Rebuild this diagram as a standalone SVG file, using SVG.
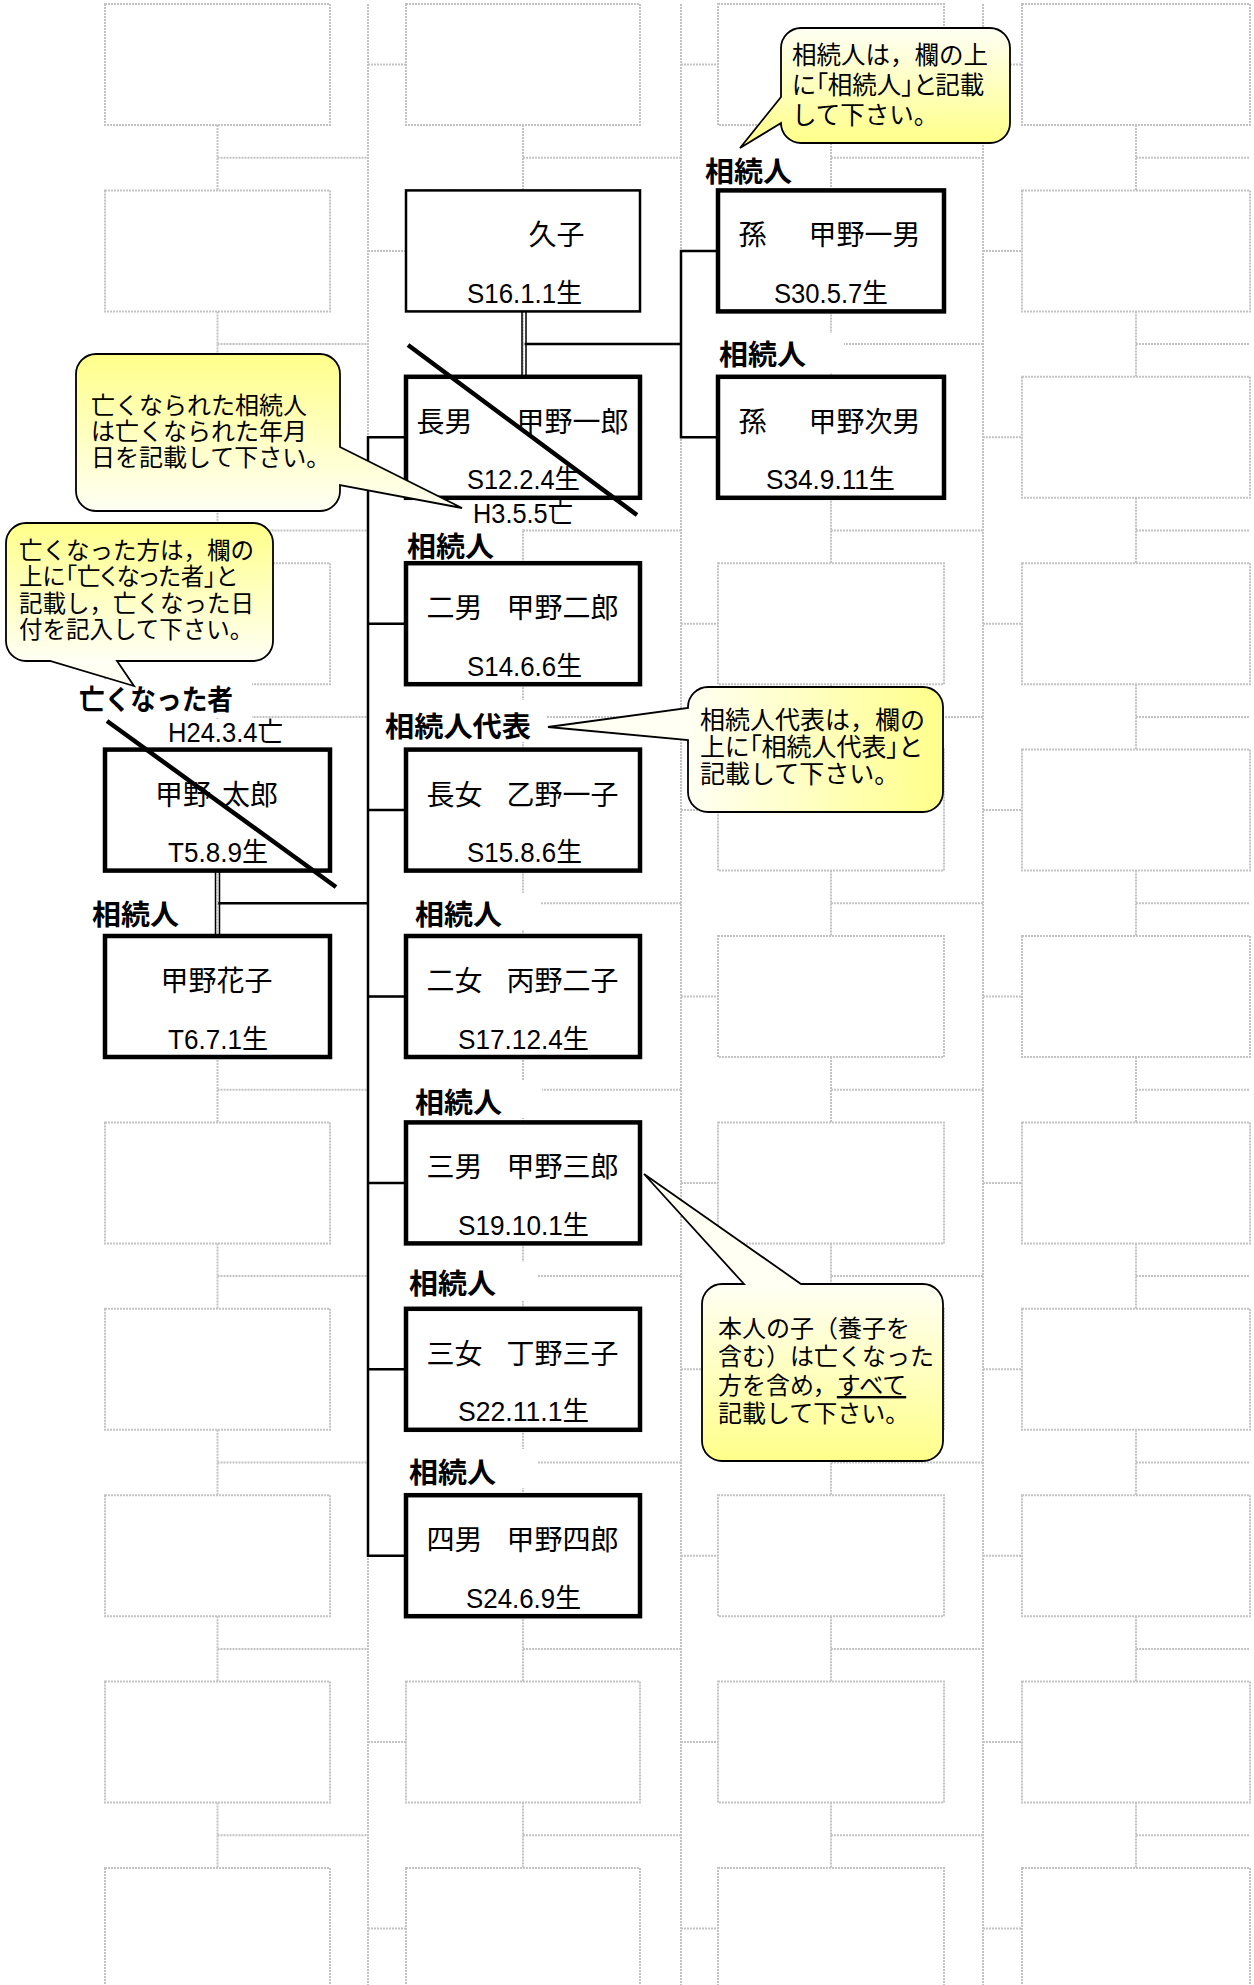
<svg xmlns="http://www.w3.org/2000/svg" width="1254" height="1985" viewBox="0 0 1254 1985">
<style>
text{font-family:'Noto Sans CJK JP','Noto Sans',sans-serif;fill:#000}
.dot{fill:none;stroke:#c3c3c3;stroke-width:2;stroke-dasharray:2 1}
.box{fill:#fff;stroke:#000;stroke-width:4.5}
.thin{fill:#fff;stroke:#000;stroke-width:2.5}
.ln{fill:none;stroke:#000;stroke-width:2.5;stroke-linecap:square}
.dbl{fill:none;stroke:#000;stroke-width:1.5}
.x{stroke:#000;stroke-width:4.5}
.bg{fill:#fff}
.nm{font-size:28px}
.dt{font-size:27px;font-family:'Liberation Sans','Noto Sans CJK JP',sans-serif}
.lb{font-size:28px;font-weight:700}
.co{font-size:24px;font-family:'Liberation Sans','Noto Sans CJK JP',sans-serif}
.pa{font-feature-settings:"palt"}
.cb{stroke:#000;stroke-width:1.8}
</style>
<defs>
<g id="row" class="dot">
<rect x="105" y="4" width="225" height="121"/>
<rect x="406" y="4" width="234" height="121"/>
<rect x="718" y="4" width="226" height="121"/>
<rect x="1022" y="4" width="228" height="121"/>
<path d="M217.5,125V190.4M217.5,157.7H368M523,125V190.4M523,157.7H681M831,125V190.4M831,157.7H983M1136,125V190.4M1136,157.7H1250M368,64.5H406M681,64.5H718M983,64.5H1022"/>
</g>
<linearGradient id="g1" gradientUnits="userSpaceOnUse" x1="0" y1="28" x2="0" y2="143"><stop offset="0" stop-color="#fffff4"/><stop offset="1" stop-color="#ffff8a"/></linearGradient>
<linearGradient id="g2" gradientUnits="userSpaceOnUse" x1="0" y1="354" x2="0" y2="511"><stop offset="0" stop-color="#ffff8a"/><stop offset="1" stop-color="#fffff4"/></linearGradient>
<linearGradient id="g3" gradientUnits="userSpaceOnUse" x1="0" y1="523" x2="0" y2="661"><stop offset="0" stop-color="#ffff8a"/><stop offset="1" stop-color="#fffff4"/></linearGradient>
<linearGradient id="g4" gradientUnits="userSpaceOnUse" x1="688" y1="0" x2="943" y2="0"><stop offset="0" stop-color="#fffff4"/><stop offset="1" stop-color="#ffff8a"/></linearGradient>
<linearGradient id="g5" gradientUnits="userSpaceOnUse" x1="0" y1="1284" x2="0" y2="1461"><stop offset="0" stop-color="#fffff4"/><stop offset="1" stop-color="#ffff8a"/></linearGradient>
</defs>
<rect width="1254" height="1985" fill="#fff"/>
<g id="template">
<use href="#row"/>
<use href="#row" y="186.4"/>
<use href="#row" y="372.8"/>
<use href="#row" y="559.2"/>
<use href="#row" y="745.6"/>
<use href="#row" y="932"/>
<use href="#row" y="1118.4"/>
<use href="#row" y="1304.8"/>
<use href="#row" y="1491.2"/>
<use href="#row" y="1677.6"/>
<use href="#row" y="1864"/>
<path class="dot" d="M368,4V1985M681,4V1985M983,4V1985"/>
</g>
<g id="connectors">
<path class="ln" d="M368,437.3V1555.7M368,437.3H406M368,623.7H406M368,810.1H406M368,996.5H406M368,1182.9H406M368,1369.3H406M368,1555.7H406M219.5,903.3H368M526,344.1H681M681,250.9V437.3M681,250.9H718M681,437.3H718"/>
<path class="dbl" d="M215.5,870.6V936M219.5,870.6V936M522,311.4V376.8M526,311.4V376.8"/>
</g>
<g id="node-hisako">
<rect class="thin" x="406" y="190.4" width="234" height="121"/>
<text class="nm" x="528.5" y="245.4">久子</text>
<text class="dt" x="467" y="302.9" textLength="115" lengthAdjust="spacingAndGlyphs">S16.1.1生</text>
</g>
<g id="node-ichiro">
<rect class="bg" x="470" y="500.5" width="108" height="28.5"/>
<rect class="box" x="406" y="376.8" width="234" height="121"/>
<text class="nm" y="431.8"><tspan x="416.5">長男</tspan><tspan x="516.5">甲野一郎</tspan></text>
<text class="dt" x="467" y="489.3" textLength="113" lengthAdjust="spacingAndGlyphs">S12.2.4生</text>
<text class="dt" x="473" y="523" textLength="100" lengthAdjust="spacingAndGlyphs">H3.5.5亡</text>
<line class="x" x1="408" y1="345" x2="637" y2="515"/>
</g>
<g id="node-jiro">
<rect class="bg" x="403" y="528" width="98" height="33"/>
<text class="lb" x="407" y="557" textLength="87" lengthAdjust="spacingAndGlyphs">相続人</text>
<rect class="box" x="406" y="563.2" width="234" height="121"/>
<text class="nm" y="618.2"><tspan x="426.5">二男</tspan><tspan x="506.5">甲野二郎</tspan></text>
<text class="dt" x="467" y="675.7" textLength="115" lengthAdjust="spacingAndGlyphs">S14.6.6生</text>
</g>
<g id="node-ichiko">
<rect class="bg" x="380" y="700" width="166" height="42"/>
<text class="lb" x="385" y="737" textLength="146" lengthAdjust="spacingAndGlyphs">相続人代表</text>
<rect class="box" x="406" y="749.6" width="234" height="121"/>
<text class="nm" y="804.6"><tspan x="426.5">長女</tspan><tspan x="506.5">乙野一子</tspan></text>
<text class="dt" x="467" y="862.1" textLength="115" lengthAdjust="spacingAndGlyphs">S15.8.6生</text>
</g>
<g id="node-futako">
<rect class="bg" x="410" y="893" width="130" height="37"/>
<text class="lb" x="415" y="925" textLength="87" lengthAdjust="spacingAndGlyphs">相続人</text>
<rect class="box" x="406" y="936" width="234" height="121"/>
<text class="nm" y="991"><tspan x="426.5">二女</tspan><tspan x="506.5">丙野二子</tspan></text>
<text class="dt" x="458" y="1048.5" textLength="131" lengthAdjust="spacingAndGlyphs">S17.12.4生</text>
</g>
<g id="node-saburo">
<rect class="bg" x="410" y="1080" width="132" height="38"/>
<text class="lb" x="415" y="1113" textLength="87" lengthAdjust="spacingAndGlyphs">相続人</text>
<rect class="box" x="406" y="1122.4" width="234" height="121"/>
<text class="nm" y="1177.4"><tspan x="426.5">三男</tspan><tspan x="506.5">甲野三郎</tspan></text>
<text class="dt" x="458" y="1234.9" textLength="131" lengthAdjust="spacingAndGlyphs">S19.10.1生</text>
</g>
<g id="node-mitsuko">
<rect class="bg" x="404" y="1262" width="133" height="39"/>
<text class="lb" x="409" y="1294" textLength="87" lengthAdjust="spacingAndGlyphs">相続人</text>
<rect class="box" x="406" y="1308.8" width="234" height="121"/>
<text class="nm" y="1363.8"><tspan x="426.5">三女</tspan><tspan x="506.5">丁野三子</tspan></text>
<text class="dt" x="458" y="1421.3" textLength="131" lengthAdjust="spacingAndGlyphs">S22.11.1生</text>
</g>
<g id="node-shiro">
<rect class="bg" x="404" y="1449" width="133" height="39"/>
<text class="lb" x="409" y="1483" textLength="87" lengthAdjust="spacingAndGlyphs">相続人</text>
<rect class="box" x="406" y="1495.2" width="234" height="121"/>
<text class="nm" y="1550.2"><tspan x="426.5">四男</tspan><tspan x="506.5">甲野四郎</tspan></text>
<text class="dt" x="466" y="1607.7" textLength="115" lengthAdjust="spacingAndGlyphs">S24.6.9生</text>
</g>
<g id="node-taro">
<rect class="bg" x="75" y="680" width="177" height="38"/>
<rect class="bg" x="165" y="719" width="122" height="27"/>
<text class="lb" x="79" y="710" textLength="154" lengthAdjust="spacingAndGlyphs">亡くなった者</text>
<text class="dt" x="168" y="742" textLength="115" lengthAdjust="spacingAndGlyphs">H24.3.4亡</text>
<rect class="box" x="105" y="749.6" width="225" height="121"/>
<text class="nm" y="804.6"><tspan x="155">甲野</tspan><tspan x="222">太郎</tspan></text>
<text class="dt" x="168" y="862.1" textLength="100" lengthAdjust="spacingAndGlyphs">T5.8.9生</text>
<line class="x" x1="107" y1="721" x2="336" y2="887"/>
</g>
<g id="node-hanako">
<rect class="bg" x="88" y="893" width="100" height="36"/>
<text class="lb" x="92" y="925" textLength="87" lengthAdjust="spacingAndGlyphs">相続人</text>
<rect class="box" x="105" y="936" width="225" height="121"/>
<text class="nm" x="160.5" y="991">甲野花子</text>
<text class="dt" x="168" y="1048.5" textLength="100" lengthAdjust="spacingAndGlyphs">T6.7.1生</text>
</g>
<g id="node-kazuo">
<rect class="bg" x="703" y="152" width="100" height="36"/>
<text class="lb" x="705" y="182" textLength="87" lengthAdjust="spacingAndGlyphs">相続人</text>
<rect class="box" x="718" y="190.4" width="226" height="121"/>
<text class="nm" y="245.4"><tspan x="738.5">孫</tspan><tspan x="808.5">甲野一男</tspan></text>
<text class="dt" x="774" y="302.9" textLength="114" lengthAdjust="spacingAndGlyphs">S30.5.7生</text>
</g>
<g id="node-tsugio">
<rect class="bg" x="712" y="333" width="132" height="40"/>
<text class="lb" x="719" y="365" textLength="87" lengthAdjust="spacingAndGlyphs">相続人</text>
<rect class="box" x="718" y="376.8" width="226" height="121"/>
<text class="nm" y="431.8"><tspan x="738.5">孫</tspan><tspan x="808.5">甲野次男</tspan></text>
<text class="dt" x="766" y="489.3" textLength="129" lengthAdjust="spacingAndGlyphs">S34.9.11生</text>
</g>
<g id="callout-heir">
<path class="cb" fill="url(#g1)" d="M801,28H990A20,20 0 0 1 1010,48V123A20,20 0 0 1 990,143H801A20,20 0 0 1 781,123L740,148L781,97V48A20,20 0 0 1 801,28Z"/>
<text class="co" style="font-size:24.5px"><tspan x="792" y="64">相続人は，欄の上</tspan><tspan class="pa" x="792" y="94">に「相続人」と記載</tspan><tspan x="792" y="124">して下さい。</tspan></text>
</g>
<g id="callout-deceased-heir">
<path class="cb" fill="url(#g2)" d="M96,354H320A20,20 0 0 1 340,374V447L462,508L340,485V491A20,20 0 0 1 320,511H96A20,20 0 0 1 76,491V374A20,20 0 0 1 96,354Z"/>
<text class="co"><tspan x="91" y="414">亡くなられた相続人</tspan><tspan x="91" y="440">は亡くなられた年月</tspan><tspan x="91" y="466">日を記載して下さい。</tspan></text>
</g>
<g id="callout-deceased">
<path class="cb" fill="url(#g3)" d="M26,523H253A20,20 0 0 1 273,543V641A20,20 0 0 1 253,661H117L134,686L50,661H26A20,20 0 0 1 6,641V543A20,20 0 0 1 26,523Z"/>
<text class="co" style="font-size:23.5px"><tspan x="19" y="559">亡くなった方は，欄の</tspan><tspan class="pa" x="19" y="585">上に「亡くなった者」と</tspan><tspan x="19" y="612">記載し，亡くなった日</tspan><tspan x="19" y="638">付を記入して下さい。</tspan></text>
</g>
<g id="callout-representative">
<path class="cb" fill="url(#g4)" d="M708,687H923A20,20 0 0 1 943,707V792A20,20 0 0 1 923,812H708A20,20 0 0 1 688,792V740L548,727L688,708V707A20,20 0 0 1 708,687Z"/>
<text class="co" style="font-size:25px"><tspan x="700" y="729">相続人代表は，欄の</tspan><tspan class="pa" x="700" y="756">上に「相続人代表」と</tspan><tspan x="700" y="783">記載して下さい。</tspan></text>
</g>
<g id="callout-children">
<path class="cb" fill="url(#g5)" d="M722,1284H744L644,1174L801,1284H923A20,20 0 0 1 943,1304V1441A20,20 0 0 1 923,1461H722A20,20 0 0 1 702,1441V1304A20,20 0 0 1 722,1284Z"/>
<text class="co"><tspan x="718" y="1337">本人の子（養子を</tspan><tspan x="718" y="1365">含む）は亡くなった</tspan><tspan x="718" y="1394">方を含め，</tspan><tspan text-decoration="underline">すべて</tspan><tspan x="718" y="1422">記載して下さい。</tspan></text>
</g>
</svg>
